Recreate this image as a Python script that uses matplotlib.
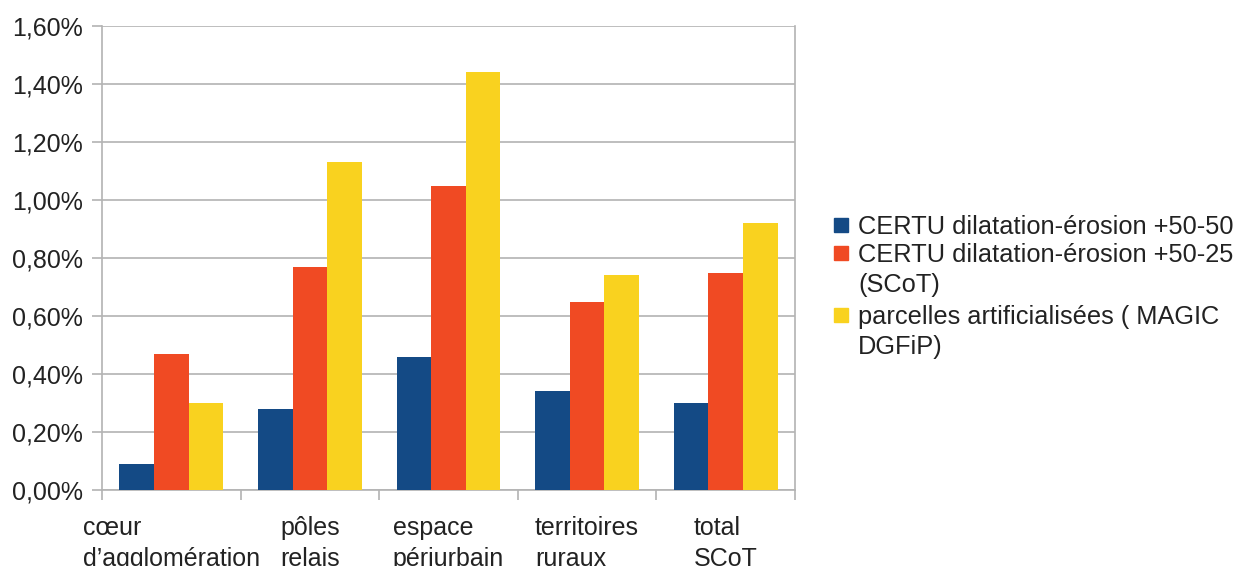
import matplotlib
matplotlib.use("Agg")
import matplotlib.pyplot as plt
from matplotlib.patches import Rectangle
from matplotlib.ticker import FixedLocator, FuncFormatter
import numpy as np

plt.rcParams["font.family"] = ["Liberation Sans", "DejaVu Sans"]

categories = ["cœur\nd’agglomération", "pôles\nrelais", "espace\npériurbain",
              "territoires\nruraux", "total\nSCoT"]
series_names = ["CERTU dilatation-érosion +50-50",
                "CERTU dilatation-érosion +50-25\n(SCoT)",
                "parcelles artificialisées ( MAGIC\nDGFiP)"]
certu_50_50 = [0.09, 0.28, 0.46, 0.34, 0.30]
certu_50_25 = [0.47, 0.77, 1.05, 0.65, 0.75]
magic_dgfip = [0.30, 1.13, 1.44, 0.74, 0.92]
colors = ["#144a85", "#f04a23", "#f9d21f"]

GRID = "#b3b3b3"
TXT = "#222222"
W, H = 1240, 566

fig = plt.figure(figsize=(W / 100, H / 100), dpi=100)
ax = fig.add_axes([102 / W, 1 - 490 / H, (795 - 102) / W, (490 - 26) / H])

x = np.arange(len(categories))
w = 0.25
for k, (vals, col) in enumerate(zip([certu_50_50, certu_50_25, magic_dgfip], colors)):
    ax.bar(x + (k - 1) * w, vals, width=w, color=col, zorder=3)

ax.set_xlim(-0.5, len(categories) - 0.5)
ax.set_ylim(0, 1.6)
ax.set_yticks(np.arange(0, 1.61, 0.2))
ax.yaxis.set_major_formatter(FuncFormatter(lambda v, p: f"{v:.2f}%".replace(".", ",")))
ax.grid(axis="y", color=GRID, linewidth=1.2, zorder=0)

ax.set_xticks(x)
ax.set_xticklabels(categories, ha="center", multialignment="left", linespacing=1.35)
ax.xaxis.set_minor_locator(FixedLocator(np.arange(-0.5, len(categories), 1.0)))
ax.tick_params(axis="x", which="major", length=0, pad=19, labelsize=18, labelcolor=TXT)
ax.tick_params(axis="x", which="minor", length=7, color=GRID, width=1.2)
ax.tick_params(axis="y", length=7, color=GRID, width=1.2, pad=6.5, labelsize=18,
               labelcolor=TXT)

for s in ["left", "right", "bottom"]:
    ax.spines[s].set_color(GRID)
    ax.spines[s].set_linewidth(1.2)
ax.spines["top"].set_visible(False)

# legend drawn by hand so that each square sits on the first line of its label
first_line_y = [225, 253, 315]
for name, col, yc in zip(series_names, colors, first_line_y):
    fig.patches.append(Rectangle((834 / W, 1 - (yc + 7) / H), 14 / W, 14 / H,
                                 transform=fig.transFigure, color=col))
    fig.text(858 / W, 1 - (yc - 10) / H, name, ha="left", va="top",
             fontsize=18.3, color=TXT, linespacing=1.3)

fig.savefig("out.png", dpi=100, facecolor="white")
